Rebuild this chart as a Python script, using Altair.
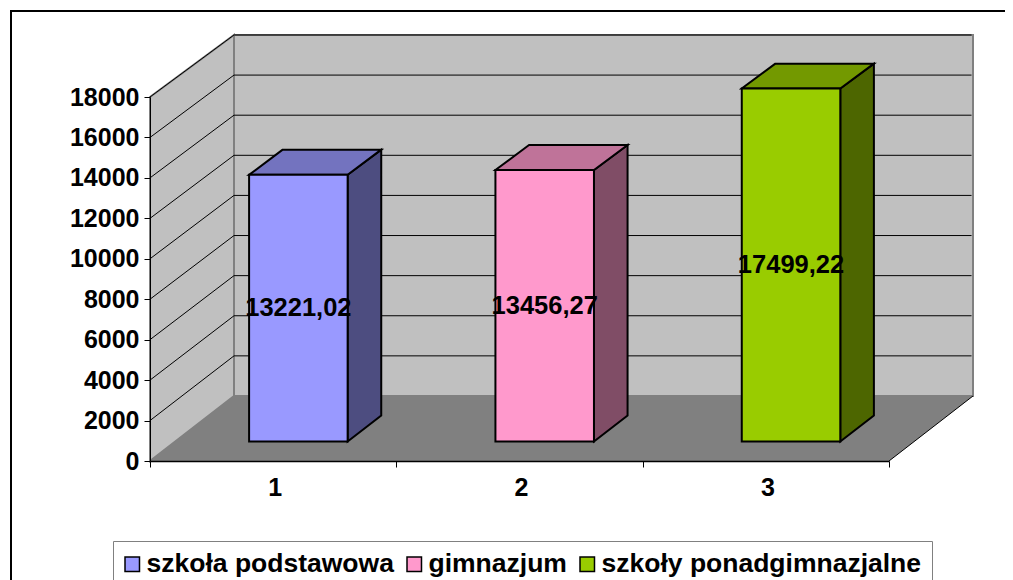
import altair as alt
import pandas as pd

categories = ["1", "2", "3"]
series = ["szkoła podstawowa", "gimnazjum", "szkoły ponadgimnazjalne"]
values = [13221.02, 13456.27, 17499.22]
front_colors = ["#9999FF", "#FF99CC", "#99CC00"]
top_colors = ["#7373BF", "#BF7399", "#739900"]
side_colors = ["#4D4D80", "#804D66", "#4D6600"]
y_ticks = list(range(0, 18001, 2000))
x_ticks = [0, 1, 2, 3]

FONT = "Liberation Sans"
Y_MAX = 18000
DX, DY = 0.341, 3215  # oblique depth, in axis units
SHRINK = 0.0082
D0, D1 = 0.3, 0.7
W0, W1 = 0.3, 0.7


def px(x, d):
    return x + d * DX


def py(v, d):
    return v * (1 - SHRINK * d) + d * DY


xs = alt.Scale(domain=[0, 3], nice=False, zero=False)
ys = alt.Scale(domain=[0, Y_MAX], nice=False, zero=False)
x_axis = alt.Axis(values=x_ticks, labels=False, tickSize=6, tickColor="black", domainColor="black",
                  domainWidth=1.5, tickWidth=1, grid=False, zindex=1)
y_axis = alt.Axis(values=y_ticks, format="d", tickSize=6, tickColor="black", domainColor="black", domainWidth=1,
                  tickWidth=1, grid=False, zindex=1, labelFont=FONT, labelFontSize=25, labelFontWeight="bold",
                  labelColor="black", labelPadding=5)


def X(f="x", **k):
    return alt.X(f"{f}:Q", scale=xs, axis=x_axis, title=None, **k)


def Y(f="y", **k):
    return alt.Y(f"{f}:Q", scale=ys, axis=y_axis, title=None, **k)


AX2 = alt.X2("x2:Q")
AY2 = alt.Y2("y2:Q")

# back wall
back = alt.Chart(pd.DataFrame([{"x": px(0, 1), "x2": px(3, 1), "y": py(0, 1), "y2": py(Y_MAX, 1)}])).mark_rect(
    fill="#C0C0C0", stroke="#808080", strokeWidth=2
).encode(x=X(), x2=AX2, y=Y(), y2=AY2)

# left wall
left_df = pd.DataFrame([
    {"x": px(0, 0), "y": py(0, 0), "y2": py(Y_MAX, 0)},
    {"x": px(0, 1), "y": py(0, 1), "y2": py(Y_MAX, 1)},
])
left = alt.Chart(left_df).mark_area(fill="#C0C0C0", stroke="#808080", strokeWidth=2, orient="vertical").encode(
    x=X(), y=Y(), y2=AY2
)

# floor
floor_df = pd.DataFrame([
    {"y": py(0, 0), "x": px(0, 0), "x2": px(3, 0)},
    {"y": py(0, 1), "x": px(0, 1), "x2": px(3, 1)},
])
floor = alt.Chart(floor_df).mark_area(fill="#808080", orient="horizontal").encode(
    x=X(), x2=AX2, y=Y()
)

# grid lines on both walls, and the floor's right edge
grid_rows = []
for v in y_ticks[1:]:
    grid_rows.append({"x": px(0, 0), "x2": px(0, 1), "y": py(v, 0), "y2": py(v, 1)})
    grid_rows.append({"x": px(0, 1), "x2": px(3, 1) - 0.006, "y": py(v, 1), "y2": py(v, 1)})
grid_rows.append({"x": px(3, 0), "x2": px(3, 1), "y": py(0, 0), "y2": py(0, 1)})
grid = alt.Chart(pd.DataFrame(grid_rows)).mark_rule(color="black", strokeWidth=1).encode(
    x=X(), x2=AX2, y=Y(), y2=AY2
)

# bars
side_rows, top_rows, front_rows, text_rows = [], [], [], []
for i, (c, s, v) in enumerate(zip(categories, series, values)):
    side_rows += [
        {"p": s, "f": side_colors[i], "x": px(i + W1, D0), "y": py(0, D0), "y2": py(v, D0)},
        {"p": s, "f": side_colors[i], "x": px(i + W1, D1), "y": py(0, D1), "y2": py(v, D1)},
    ]
    top_rows += [
        {"p": s, "f": top_colors[i], "y": py(v, D0), "x": px(i + W0, D0), "x2": px(i + W1, D0)},
        {"p": s, "f": top_colors[i], "y": py(v, D1), "x": px(i + W0, D1), "x2": px(i + W1, D1)},
    ]
    front_rows.append({"series": s, "x": px(i + W0, D0), "x2": px(i + W1, D0), "y": py(0, D0), "y2": py(v, D0)})
    text_rows.append({"t": f"{v:.2f}".replace(".", ","), "x": px(i + 0.5, D0), "y": py(v / 2, D0)})

side = alt.Chart(pd.DataFrame(side_rows)).mark_area(stroke="black", strokeWidth=2, orient="vertical").encode(
    x=X(), y=Y(), y2=AY2, fill=alt.Fill("f:N", scale=None), detail="p:N"
)
top = alt.Chart(pd.DataFrame(top_rows)).mark_area(stroke="black", strokeWidth=2, orient="horizontal").encode(
    x=X(), x2=AX2, y=Y(), fill=alt.Fill("f:N", scale=None), detail="p:N"
)
front = alt.Chart(pd.DataFrame(front_rows)).mark_rect(stroke="black", strokeWidth=2).encode(
    x=X(), x2=AX2, y=Y(), y2=AY2,
    fill=alt.Fill("series:N", scale=alt.Scale(domain=series, range=front_colors), sort=series,
                  legend=alt.Legend(
                      orient="none", legendX=-37, legendY=444, columns=3, title=None, gridAlign="none",
                      symbolType="square", symbolSize=210, symbolStrokeColor="black", symbolStrokeWidth=1.5,
                      symbolOffset=-4,
                      labelFont=FONT, labelFontSize=26.5, labelFontWeight="bold", labelColor="black",
                      labelLimit=400, labelOffset=1, columnPadding=10, padding=10,
                      strokeColor="#808080", fillColor="white")),
)
labels = alt.Chart(pd.DataFrame(text_rows)).mark_text(
    font=FONT, fontSize=25.5, fontWeight="bold", color="black", align="center", baseline="middle"
).encode(x=X(), y=Y(), text="t:N")

# category labels under the axis
cat_df = pd.DataFrame({"c": categories, "x": [i + 0.5 for i in range(3)]})
cats = alt.Chart(cat_df).mark_text(
    font=FONT, fontSize=25, fontWeight="bold", color="black", align="center", baseline="middle", yOffset=27,
    xOffset=2
).encode(x=X(), y=alt.value(364), text="c:N")

# outer frame running off the page
frame = alt.Chart(pd.DataFrame({"a": [0]})).mark_rect(fill="transparent", stroke="black", strokeWidth=2).encode(
    x=alt.value(-139), x2=alt.value(900), y=alt.value(-86), y2=alt.value(520)
)

chart = alt.layer(back, left, floor, grid, side, top, front, labels, cats, frame).properties(
    width=739, height=364,
    autosize=alt.AutoSizeParams(type="none"),
    padding={"left": 142, "top": 89, "right": 116, "bottom": 119},
).configure_view(stroke=None)

chart.save("out.html", embed_options={"renderer": "svg", "actions": False})
